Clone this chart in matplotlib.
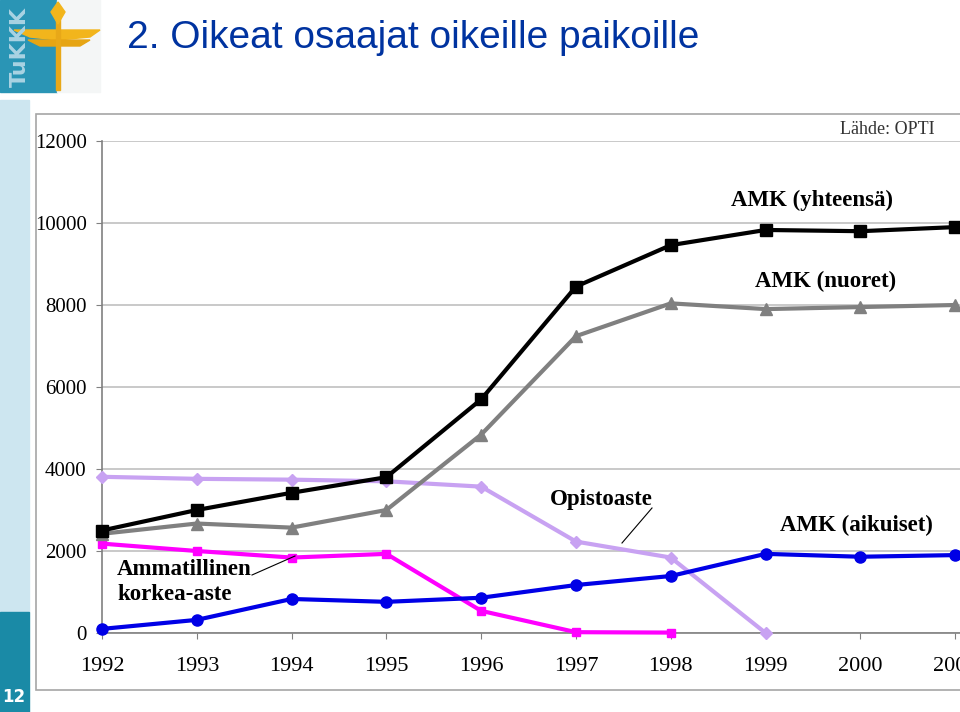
import matplotlib
matplotlib.use("Agg")
import matplotlib.pyplot as plt
from matplotlib.patches import Rectangle, Polygon

# Data
years = [1992, 1993, 1994, 1995, 1996, 1997, 1998, 1999, 2000, 2001]
amk_total = [2500, 3000, 3420, 3800, 5700, 8450, 9460, 9830, 9800, 9900]
amk_young = [2420, 2670, 2570, 3000, 4840, 7240, 8040, 7900, 7950, 8000]
opisto_years = [1992, 1993, 1994, 1995, 1996, 1997, 1998, 1999]
opisto = [3810, 3760, 3740, 3700, 3570, 2230, 1840, 0]
ammkork_years = [1992, 1993, 1994, 1995, 1996, 1997, 1998]
ammkork = [2180, 2000, 1840, 1930, 540, 20, 10]
amk_adult = [100, 320, 830, 760, 860, 1170, 1390, 1930, 1860, 1900]

W, H = 960, 712
SERIF = ["Liberation Serif", "DejaVu Serif"]

fig = plt.figure(figsize=(W / 100, H / 100), dpi=100)
fig.patch.set_facecolor("white")

# background layer in pixel coordinates
bg = fig.add_axes([0, 0, 1, 1], zorder=0)
bg.set_xlim(0, W)
bg.set_ylim(H, 0)
bg.axis("off")

# logo block
bg.add_patch(Rectangle((0, 0), 57, 92, color="#2a95b5"))
bg.add_patch(Rectangle((57, 0), 43, 92, color="#f4f6f6"))
bg.text(20, 47, "TuKKK", rotation=90, ha="center", va="center",
        fontsize=16, color="#a9d3e3", family="DejaVu Sans", fontweight="bold")
bg.add_patch(Polygon([[14, 30], [100, 30], [90, 37], [58, 40], [30, 37]],
                     closed=True, color="#f2b51c"))
bg.add_patch(Polygon([[28, 40], [90, 40], [80, 46], [40, 46]],
                     closed=True, color="#e6a514"))
bg.add_patch(Rectangle((56, 14), 4, 76, color="#e8a818"))
bg.add_patch(Polygon([[51, 12], [58, 2], [65, 12], [58, 24]], closed=True,
                     color="#f2b51c"))

# side bar + slide number
bg.add_patch(Rectangle((0, 100), 29, 512, color="#cde6f0"))
bg.add_patch(Rectangle((0, 612), 29, 100, color="#1a8aa6"))
bg.text(14, 697, "12", ha="center", va="center", color="white",
        fontsize=12, fontweight="bold", family="DejaVu Sans")

# chart frame
bg.add_patch(Rectangle((36, 114), 940, 576, facecolor="white",
                       edgecolor="#a6a6a6", lw=1.2))

fig.text(127 / W, 1 - 38 / H, "2. Oikeat osaajat oikeille paikoille",
         color="#0033a0", fontsize=28, va="center", ha="left",
         family=["Liberation Sans", "DejaVu Sans"])
fig.text(935 / W, 1 - 130 / H, "Lähde: OPTI", ha="right", va="center",
         fontsize=13, color="#333333", family=SERIF)

# main chart axes
x0, x1 = 102, 960
y_top, y_zero = 141, 633
px_per_year = 94.8
ax = fig.add_axes([x0 / W, 1 - y_zero / H, (x1 - x0) / W, (y_zero - y_top) / H],
                  zorder=1)
ax.set_facecolor("none")
ax.set_xlim(1992, 1992 + (x1 - x0) / px_per_year)
ax.set_ylim(0, 12000)

ax.plot(years, amk_total, color="black", lw=3, marker="s", ms=8,
        zorder=5, clip_on=False)
ax.plot(years, amk_young, color="#808080", lw=3, marker="^", ms=8,
        zorder=4, clip_on=False)
ax.plot(opisto_years, opisto, color="#c8a2f2", lw=3, marker="D", ms=6,
        zorder=3, clip_on=False)
ax.plot(ammkork_years, ammkork, color="#ff00ff", lw=3, marker="s", ms=6,
        zorder=3, clip_on=False)
ax.plot(years, amk_adult, color="#0000e6", lw=3, marker="o", ms=8,
        zorder=4, clip_on=False)

ax.set_yticks(range(0, 12001, 2000))
ax.set_xticks(years)
ax.grid(axis="y", color="#c0c0c0", lw=1.2)
ax.set_axisbelow(True)
for s in ["top", "right"]:
    ax.spines[s].set_visible(False)
for s in ["left", "bottom"]:
    ax.spines[s].set_color("#808080")
    ax.spines[s].set_linewidth(1.2)
ax.tick_params(axis="both", direction="out", length=4, color="#808080")
ax.tick_params(axis="x", pad=13, labelsize=16)
ax.tick_params(axis="y", pad=7, labelsize=15)
for lab in ax.get_xticklabels() + ax.get_yticklabels():
    lab.set_family(SERIF)


def yr(px):
    return 1992 + (px - x0) / px_per_year


def val(py):
    return (y_zero - py) * 12000 / (y_zero - y_top)


lab_kw = dict(fontsize=16.5, fontweight="bold", family=SERIF, color="black")
ax.text(yr(812), val(200), "AMK (yhteensä)", ha="center", va="center", **lab_kw)
ax.text(yr(826), val(281), "AMK (nuoret)", ha="center", va="center", **lab_kw)
ax.text(yr(601), val(500), "Opistoaste", ha="center", va="center", **lab_kw)
ax.text(yr(856), val(525), "AMK (aikuiset)", ha="center", va="center", **lab_kw)
ax.text(yr(117), val(582), "Ammatillinen\nkorkea-aste", ha="left",
        va="center", linespacing=1.25, zorder=6, **lab_kw)
ax.plot([yr(652), yr(622)], [val(508), val(543)], color="black", lw=0.8, zorder=6)
ax.plot([yr(252), yr(295)], [val(575), val(556)], color="black", lw=0.8, zorder=6)

fig.savefig("out.png", dpi=100)
